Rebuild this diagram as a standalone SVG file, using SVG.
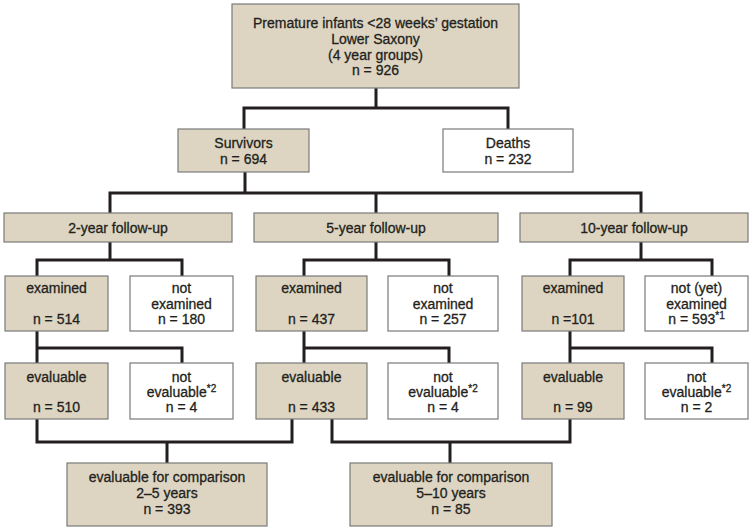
<svg xmlns="http://www.w3.org/2000/svg" width="754" height="530" viewBox="0 0 754 530">
<style>
.b{fill:#ddd5c1;stroke:#7a7a7a;stroke-width:1.2}
.w{fill:#ffffff;stroke:#7a7a7a;stroke-width:1.2}
text{font-family:"Liberation Sans",Arial,sans-serif;font-size:14px;fill:#231f20;stroke:#231f20;stroke-width:0.3;text-anchor:middle}
.sup{font-size:10px}
.c{fill:none;stroke:#231f20;stroke-width:3}
</style>
<rect width="754" height="530" fill="#ffffff"/>
<g id="connectors">
<path class="c" d="M376,88 V108 M244,129 V108 H508 V129"/>
<path class="c" d="M245,172 V193 M110,213 V193 H641 V213 M376,193 V213"/>
<path class="c" d="M110,242 V260 M37,276 V260 H182 V276"/>
<path class="c" d="M376,242 V260 M304,276 V260 H449 V276"/>
<path class="c" d="M641,242 V260 M570,276 V260 H712 V276"/>
<path class="c" d="M37,331 V363 M37,348 H182 V363"/>
<path class="c" d="M304,331 V363 M304,348 H449 V363"/>
<path class="c" d="M570,331 V363 M570,348 H712 V363"/>
<path class="c" d="M37,419 V442 H292 V419 M167,442 V463"/>
<path class="c" d="M332,419 V442 H570 V419 M450,442 V463"/>
</g>
<g id="root">
<rect class="b" x="232" y="4" width="287" height="84"/>
<text x="375.5" y="28">Premature infants &lt;28 weeks’ gestation</text>
<text x="375.5" y="44">Lower Saxony</text>
<text x="375.5" y="59.5">(4 year groups)</text>
<text x="375.5" y="75">n = 926</text>
</g>
<g id="survivors">
<rect class="b" x="178" y="129" width="131" height="43"/>
<text x="243.5" y="148">Survivors</text>
<text x="243.5" y="164">n = 694</text>
</g>
<g id="deaths">
<rect class="w" x="443" y="129" width="130" height="43"/>
<text x="508" y="148">Deaths</text>
<text x="508" y="164">n = 232</text>
</g>
<g id="fu2">
<rect class="b" x="4" y="213" width="228" height="29"/>
<text x="118" y="232.5">2-year follow-up</text>
</g>
<g id="fu5">
<rect class="b" x="254" y="213" width="244" height="29"/>
<text x="376" y="232.5">5-year follow-up</text>
</g>
<g id="fu10">
<rect class="b" x="520" y="213" width="228" height="29"/>
<text x="634" y="232.5">10-year follow-up</text>
</g>
<g id="ex2">
<rect class="b" x="5" y="276" width="103" height="55"/>
<text x="56.5" y="293">examined</text>
<text x="56.5" y="324">n = 514</text>
</g>
<g id="nex2">
<rect class="w" x="130" y="276" width="103" height="55"/>
<text x="181.5" y="293">not</text>
<text x="181.5" y="308.5">examined</text>
<text x="181.5" y="324">n = 180</text>
</g>
<g id="ex5">
<rect class="b" x="256" y="276" width="111" height="55"/>
<text x="311.5" y="293">examined</text>
<text x="311.5" y="324">n = 437</text>
</g>
<g id="nex5">
<rect class="w" x="388" y="276" width="110" height="55"/>
<text x="443" y="293">not</text>
<text x="443" y="308.5">examined</text>
<text x="443" y="324">n = 257</text>
</g>
<g id="ex10">
<rect class="b" x="522" y="276" width="102" height="55"/>
<text x="573" y="293">examined</text>
<text x="573" y="324">n =101</text>
</g>
<g id="nex10">
<rect class="w" x="645" y="276" width="103" height="55"/>
<text x="696.5" y="293">not (yet)</text>
<text x="696.5" y="308.5">examined</text>
<text x="696.5" y="324">n = 593<tspan class="sup" dy="-5">*1</tspan></text>
</g>
<g id="ev2">
<rect class="b" x="5" y="363" width="103" height="56"/>
<text x="56.5" y="382">evaluable</text>
<text x="56.5" y="412">n = 510</text>
</g>
<g id="nev2">
<rect class="w" x="130" y="363" width="103" height="56"/>
<text x="181.5" y="382">not</text>
<text x="181.5" y="397">evaluable<tspan class="sup" dy="-5">*2</tspan></text>
<text x="181.5" y="412">n = 4</text>
</g>
<g id="ev5">
<rect class="b" x="256" y="363" width="111" height="56"/>
<text x="311.5" y="382">evaluable</text>
<text x="311.5" y="412">n = 433</text>
</g>
<g id="nev5">
<rect class="w" x="388" y="363" width="110" height="56"/>
<text x="443" y="382">not</text>
<text x="443" y="397">evaluable<tspan class="sup" dy="-5">*2</tspan></text>
<text x="443" y="412">n = 4</text>
</g>
<g id="ev10">
<rect class="b" x="522" y="363" width="102" height="56"/>
<text x="573" y="382">evaluable</text>
<text x="573" y="412">n = 99</text>
</g>
<g id="nev10">
<rect class="w" x="645" y="363" width="103" height="56"/>
<text x="696.5" y="382">not</text>
<text x="696.5" y="397">evaluable<tspan class="sup" dy="-5">*2</tspan></text>
<text x="696.5" y="412">n = 2</text>
</g>
<g id="cmp25">
<rect class="b" x="67" y="463" width="200" height="63"/>
<text x="167" y="482">evaluable for comparison</text>
<text x="167" y="498">2–5 years</text>
<text x="167" y="514">n = 393</text>
</g>
<g id="cmp510">
<rect class="b" x="350" y="463" width="202" height="63"/>
<text x="451" y="482">evaluable for comparison</text>
<text x="451" y="498">5–10 years</text>
<text x="451" y="514">n = 85</text>
</g>
</svg>
